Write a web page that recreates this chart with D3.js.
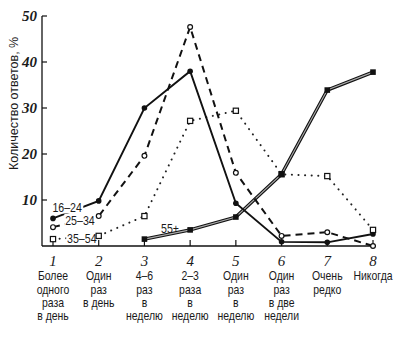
<!DOCTYPE html>
<html lang="ru">
<head>
  <meta charset="UTF-8">
  <title>Количество ответов</title>
  <script src="https://d3js.org/d3.v7.min.js"></script>
  <style>
    body { margin: 0; background: #fff; }
    svg { display: block; }
    .num { font-family: "Liberation Serif", "DejaVu Serif", serif; font-style: italic; fill: #1a1a1a; }
    .lab { font-family: "Liberation Sans", Arial, sans-serif; fill: #1a1a1a; }
  </style>
</head>
<body>
  <svg></svg>
  <script>
    const categories = [1, 2, 3, 4, 5, 6, 7, 8];
    const catLabels = [
      ['Более', 'одного', 'раза', 'в день'],
      ['Один', 'раз', 'в день'],
      ['4–6', 'раз', 'в', 'неделю'],
      ['2–3', 'раза', 'в', 'неделю'],
      ['Один', 'раз', 'в', 'неделю'],
      ['Один', 'раз', 'в две', 'недели'],
      ['Очень', 'редко'],
      ['Никогда']
    ];
    const yTicks = [10, 20, 30, 40, 50];
    const age16 = [6, 9.8, 30, 38, 9.3, 0.9, 0.8, 2.6];
    const age25 = [4.1, 6.5, 19.6, 47.6, 15.9, 2.2, 3, 0];
    const age35 = [1.5, 2.2, 6.5, 27.2, 29.4, 15.6, 15.2, 3.5];
    const age55 = [null, null, 1.5, 3.5, 6.3, 15.6, 33.9, 37.8];
    const seriesNames = ['16–24', '25–34', '35–54', '55+'];

    const W = 400, H = 354;
    const NARROW = 0.85;
    const svg = d3.select('svg').attr('width', W).attr('height', H);

    const x = d3.scaleLinear().domain([1, 8]).range([53, 373]);
    const y = d3.scaleLinear().domain([0, 50]).range([246, 16]);

    // оси
    svg.append('line').attr('x1', 42).attr('x2', 42).attr('y1', y(50)).attr('y2', y(0))
      .attr('stroke', '#111').attr('stroke-width', 1.3);
    svg.append('line').attr('x1', 42).attr('x2', 376).attr('y1', y(0)).attr('y2', y(0))
      .attr('stroke', '#111').attr('stroke-width', 1.3);

    svg.selectAll('.yt').data(yTicks).enter().append('line')
      .attr('x1', 42).attr('x2', 47).attr('y1', d => y(d)).attr('y2', d => y(d))
      .attr('stroke', '#111').attr('stroke-width', 1.2);
    svg.selectAll('.ytl').data(yTicks).enter().append('text')
      .attr('class', 'num').attr('x', 37).attr('y', d => y(d) + 5)
      .attr('text-anchor', 'end').attr('font-size', 15).attr('font-weight', 'bold').text(d => d);

    svg.selectAll('.xt').data(categories).enter().append('line')
      .attr('x1', d => x(d)).attr('x2', d => x(d)).attr('y1', y(0)).attr('y2', y(0) - 6)
      .attr('stroke', '#111').attr('stroke-width', 1.2);
    svg.selectAll('.xtl').data(categories).enter().append('text')
      .attr('class', 'num').attr('x', d => x(d)).attr('y', 265.5)
      .attr('text-anchor', 'middle').attr('font-size', 15).text(d => d);

    const lab = svg.selectAll('.cl').data(categories).enter().append('text')
      .attr('class', 'lab').attr('text-anchor', 'middle').attr('font-size', 12.3)
      .attr('transform', d => `translate(${x(d)},0) scale(${NARROW},1)`);
    lab.selectAll('tspan').data((d, i) => catLabels[i])
      .enter().append('tspan')
      .attr('x', 0).attr('y', (d, j) => 280.5 + j * 13.3).text(d => d);

    svg.append('text').attr('class', 'lab').attr('font-size', 12.5)
      .attr('transform', `translate(18,${y(31)}) rotate(-90)`)
      .attr('text-anchor', 'middle').text('Количество ответов, %');

    const line = d3.line().defined(d => d != null).x((d, i) => x(categories[i])).y(d => y(d));

    // 55+ двойная линия
    svg.append('path').attr('d', line(age55)).attr('fill', 'none')
      .attr('stroke', '#111').attr('stroke-width', 3.4);
    svg.append('path').attr('d', line(age55)).attr('fill', 'none')
      .attr('stroke', '#aaa').attr('stroke-width', 1.1);
    svg.append('path').attr('d', line(age35)).attr('fill', 'none')
      .attr('stroke', '#222').attr('stroke-width', 2).attr('stroke-dasharray', '0.1 6.5')
      .attr('stroke-linecap', 'round');
    svg.append('path').attr('d', line(age25)).attr('fill', 'none')
      .attr('stroke', '#111').attr('stroke-width', 2).attr('stroke-dasharray', '7 5');
    svg.append('path').attr('d', line(age16)).attr('fill', 'none')
      .attr('stroke', '#111').attr('stroke-width', 1.9);

    // подписи серий (закрывают линии)
    const legend = [
      { name: seriesNames[0], cx: 1.31, cy: 8.3, mask: true },
      { name: seriesNames[1], cx: 1.59, cy: 5.6, mask: true },
      { name: seriesNames[2], cx: 1.63, cy: 1.7, mask: true },
      { name: seriesNames[3], cx: 3.56, cy: 3.9, mask: false }
    ];
    legend.forEach(l => {
      const g = svg.append('g');
      const t = g.append('text').attr('class', 'lab').attr('font-size', 12.5)
        .attr('transform', `translate(${x(l.cx)},${y(l.cy) + 4.5}) scale(${NARROW},1)`)
        .attr('text-anchor', 'middle').text(l.name);
      if (l.mask) {
        const b = t.node().getBBox();
        g.insert('rect', 'text').attr('transform', t.attr('transform'))
          .attr('x', b.x - 1).attr('y', b.y + 1)
          .attr('width', b.width + 2).attr('height', b.height - 2).attr('fill', '#fff');
      }
    });

    // маркеры
    const pts = (arr) => arr.map((v, i) => ({ v, c: categories[i] })).filter(d => d.v != null);
    svg.selectAll('.m16').data(pts(age16)).enter().append('circle')
      .attr('cx', d => x(d.c)).attr('cy', d => y(d.v)).attr('r', 2.8).attr('fill', '#111');
    svg.selectAll('.m25').data(pts(age25)).enter().append('circle')
      .attr('cx', d => x(d.c)).attr('cy', d => y(d.v)).attr('r', 2.4)
      .attr('fill', '#fff').attr('stroke', '#111').attr('stroke-width', 1.2);
    svg.selectAll('.m35').data(pts(age35)).enter().append('rect')
      .attr('x', d => x(d.c) - 2.6).attr('y', d => y(d.v) - 2.6).attr('width', 5.2).attr('height', 5.2)
      .attr('fill', '#fff').attr('stroke', '#111').attr('stroke-width', 1.2);
    svg.selectAll('.m55').data(pts(age55)).enter().append('rect')
      .attr('x', d => x(d.c) - 2.8).attr('y', d => y(d.v) - 2.8).attr('width', 5.6).attr('height', 5.6)
      .attr('fill', '#111');
  </script>
</body>
</html>
